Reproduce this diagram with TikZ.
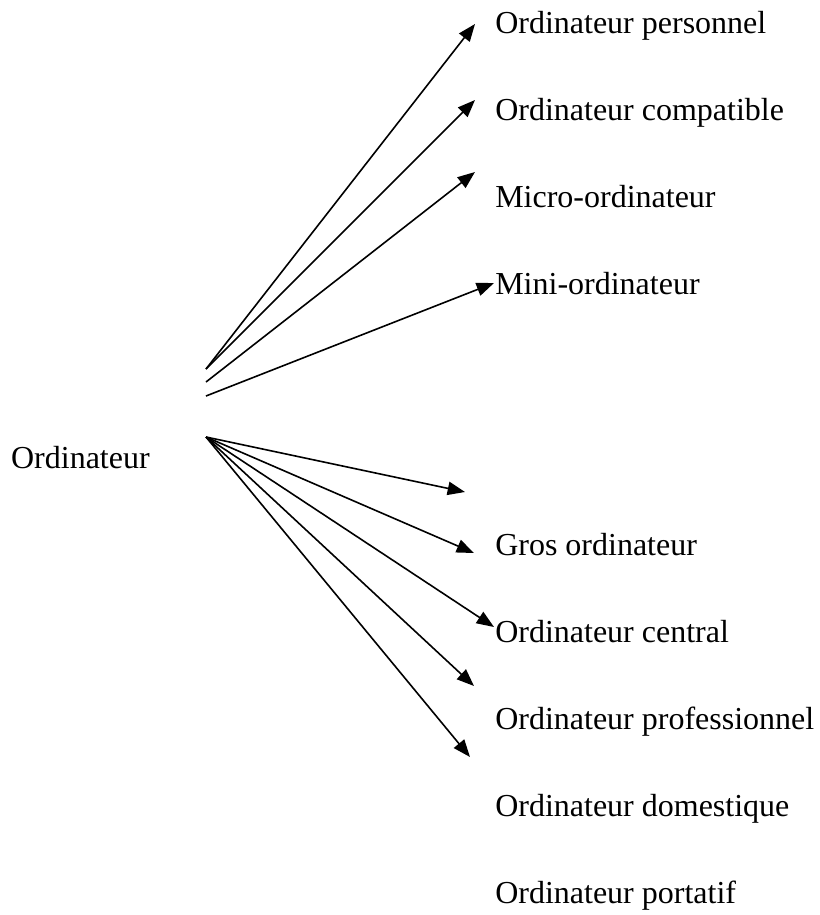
\documentclass[tikz,border=0pt]{standalone}
\usepackage{fontspec}
\setmainfont{Liberation Serif}
\usetikzlibrary{arrows.meta}

\begin{document}
\begin{tikzpicture}[x=0.75pt,y=-0.75pt,
    lbl/.style={anchor=base west, inner sep=0pt, font=\fontsize{24}{28}\selectfont},
    arr/.style={-{Triangle[length=13pt,width=10pt]}, line width=1.2pt}]

    \useasboundingbox (0,0) rectangle (819,915);

    % Draw the main word
    \node[lbl, anchor=base east] (ord) at (150,468) {Ordinateur};

    % Points where the arrows leave
    \coordinate (U1) at (206,369);
    \coordinate (U2) at (206,382);
    \coordinate (U3) at (206,396);
    \coordinate (L) at (206,437);

    % Draw the upper words
    \node[lbl] (perso) at (495,33) {Ordinateur personnel};
    \node[lbl] (compat) at (495,120) {Ordinateur compatible};
    \node[lbl] (micro) at (495,207) {Micro-ordinateur};
    \node[lbl] (mini) at (495,294) {Mini-ordinateur};

    % Draw the lower words
    \node[lbl] (gros) at (495,555) {Gros ordinateur};
    \node[lbl] (central) at (495,642) {Ordinateur central};
    \node[lbl] (pro) at (495,729) {Ordinateur professionnel};
    \node[lbl] (dom) at (495,816) {Ordinateur domestique};
    \node[lbl] (port) at (495,903) {Ordinateur portatif};

    % Arrow ends
    \coordinate (T1) at (475,24);
    \coordinate (T2) at (475,100);
    \coordinate (T3) at (475,172);
    \coordinate (T4) at (494,283);
    \coordinate (B1) at (465,492);
    \coordinate (B2) at (474,553);
    \coordinate (B3) at (494,627);
    \coordinate (B4) at (474,686);
    \coordinate (B5) at (470,757);

    % Draw the arrows
    \draw[arr] (U1) -- (T1);
    \draw[arr] (U1) -- (T2);
    \draw[arr] (U2) -- (T3);
    \draw[arr] (U3) -- (T4);
    \foreach \t in {B1,B2,B3,B4,B5}
        \draw[arr] (L) -- (\t);

\end{tikzpicture}
\end{document}
